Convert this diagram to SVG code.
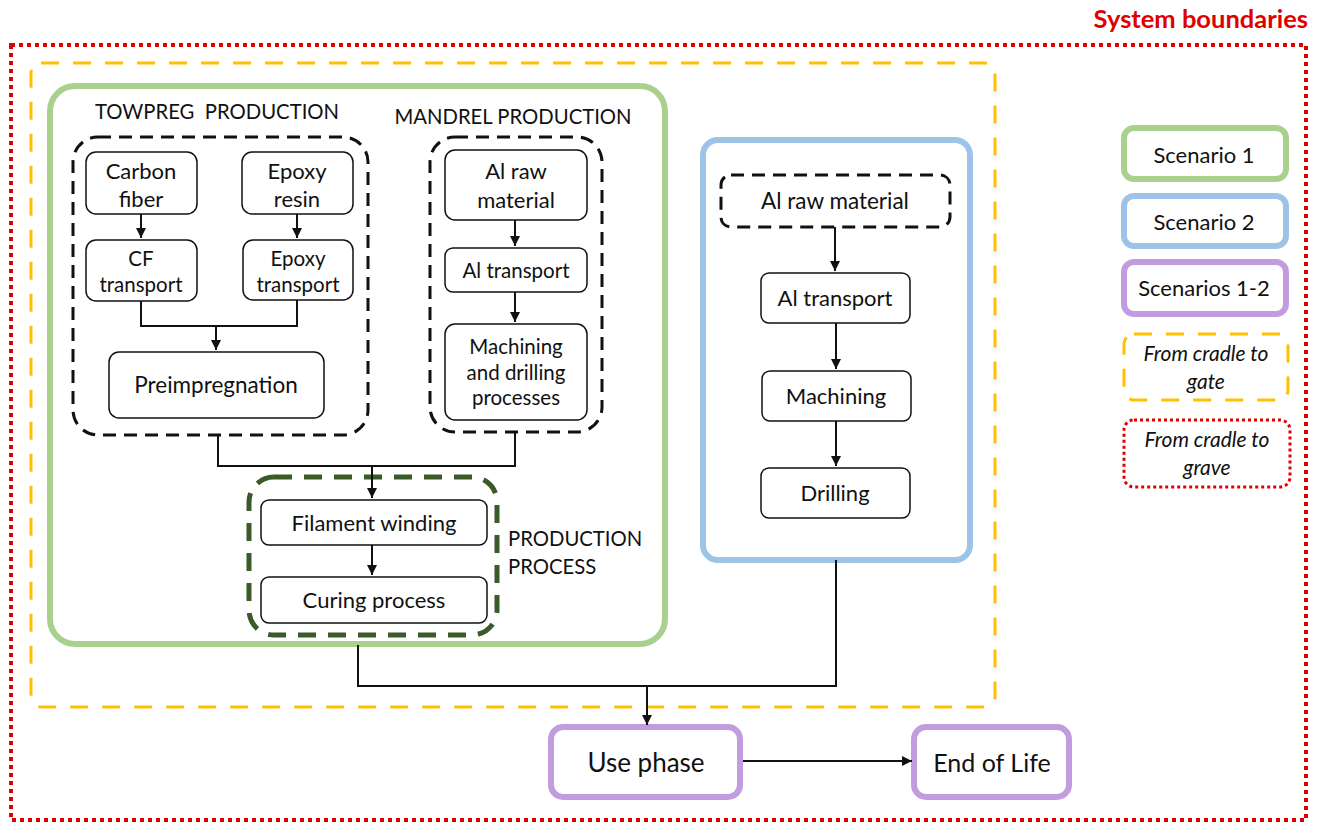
<svg xmlns="http://www.w3.org/2000/svg" width="1318" height="823" viewBox="0 0 1318 823">
<style>
text{font-family:Lato,"Open Sans","Liberation Sans",sans-serif;fill:#111;text-anchor:middle}
.box{fill:#fff;stroke:#111;stroke-width:1.5}
.dash{fill:none;stroke:#111;stroke-width:3;stroke-dasharray:13 8}
.c{fill:none;stroke:#111;stroke-width:2}
.s1{fill:#fff;stroke:#A9D18E;stroke-width:6}
.s2{fill:#fff;stroke:#9DC3E6;stroke-width:6}
.s12{fill:#fff;stroke:#C39BE0;stroke-width:6}
.gate{fill:none;stroke:#FFC000;stroke-width:3;stroke-dasharray:18 14}
.grave{fill:none;stroke:#E00000;stroke-width:4;stroke-dasharray:4 4}
.cap{font-size:20.3px}
.t22{font-size:22px}
.t20{font-size:20.5px}
.leg{font-size:22px}
.it{font-style:italic;font-size:21px}
</style>
<defs>
<marker id="ah" viewBox="0 0 10 10" refX="10" refY="5" markerWidth="5" markerHeight="5" orient="auto"><path d="M0,0 L10,5 L0,10 z" fill="#111"/></marker>
</defs>
<text x="1308" y="28" style="font-size:25.5px;font-weight:bold;fill:#E00000;text-anchor:end">System boundaries</text>
<rect id="system-boundary" x="11" y="45" width="1295" height="775" class="grave"/>
<rect id="cradle-gate" x="31" y="63" width="964" height="644" rx="10" class="gate"/>
<g id="scenario1"><rect x="50" y="86" width="615" height="558" rx="25" class="s1"/></g>
<g id="scenario2"><rect x="703" y="140" width="267" height="420" rx="15" class="s2"/></g>

<g id="towpreg">
<rect x="73" y="137" width="295" height="298" rx="25" class="dash"/>
<text x="217" y="119" class="cap" xml:space="preserve">TOWPREG  PRODUCTION</text>
</g>
<g id="mandrel">
<rect x="430" y="137" width="172" height="295" rx="25" class="dash"/>
<text x="513" y="124" class="cap">MANDREL PRODUCTION</text>
</g>
<g id="production-process">
<rect x="249" y="477" width="248" height="158" rx="25" fill="none" stroke="#3A5A28" stroke-width="5" stroke-dasharray="18 12"/>
<text x="508" y="546" class="cap" style="text-anchor:start">PRODUCTION</text>
<text x="508" y="574" class="cap" style="text-anchor:start">PROCESS</text>
</g>

<g id="carbon-fiber"><rect x="86" y="152" width="111" height="62" rx="10" class="box"/><text x="141" y="179" class="t22">Carbon</text><text x="141" y="207" class="t22">fiber</text></g>
<g id="epoxy-resin"><rect x="242" y="152" width="111" height="62" rx="10" class="box"/><text x="297" y="179" class="t22">Epoxy</text><text x="297" y="207" class="t22">resin</text></g>
<g id="cf-transport"><rect x="86" y="240" width="111" height="61" rx="10" class="box"/><text x="141" y="266" class="t20">CF</text><text x="141" y="292" class="t20">transport</text></g>
<g id="epoxy-transport"><rect x="243" y="240" width="110" height="60" rx="10" class="box"/><text x="298" y="266" class="t20">Epoxy</text><text x="298" y="292" class="t20">transport</text></g>
<g id="preimpregnation"><rect x="109" y="352" width="215" height="66" rx="10" class="box"/><text x="216" y="393" style="font-size:22.5px">Preimpregnation</text></g>

<g id="al-raw-1"><rect x="445" y="150" width="142" height="70" rx="10" class="box"/><text x="516" y="179" class="t22">Al raw</text><text x="516" y="208" class="t22">material</text></g>
<g id="al-transport-1"><rect x="445" y="248" width="142" height="44" rx="8" class="box"/><text x="516" y="278" class="t20">Al transport</text></g>
<g id="machining-drilling"><rect x="445" y="324" width="142" height="96" rx="10" class="box"/><text x="516" y="354" class="t20">Machining</text><text x="516" y="380" class="t20">and drilling</text><text x="516" y="405" class="t20">processes</text></g>

<g id="filament-winding"><rect x="261" y="500" width="226" height="45" rx="8" class="box"/><text x="374" y="531" class="t22">Filament winding</text></g>
<g id="curing"><rect x="261" y="577" width="226" height="46" rx="8" class="box"/><text x="374" y="608" class="t22">Curing process</text></g>

<g id="al-raw-2"><rect x="721" y="175" width="229" height="52" rx="10" class="dash"/><text x="835" y="209" style="font-size:22.5px">Al raw material</text></g>
<g id="al-transport-2"><rect x="761" y="273" width="149" height="50" rx="8" class="box"/><text x="835" y="306" class="t22">Al transport</text></g>
<g id="machining"><rect x="762" y="371" width="149" height="50" rx="8" class="box"/><text x="836" y="404" class="t22">Machining</text></g>
<g id="drilling"><rect x="761" y="468" width="149" height="50" rx="8" class="box"/><text x="835" y="501" class="t22">Drilling</text></g>

<g id="use-phase"><rect x="551" y="727" width="189" height="70" rx="12" class="s12"/><text x="646" y="772" style="font-size:26px">Use phase</text></g>
<g id="end-of-life"><rect x="914" y="727" width="155" height="70" rx="12" class="s12"/><text x="992" y="772" style="font-size:25px">End of Life</text></g>

<g id="legend-s1"><rect x="1124" y="128" width="162" height="51" rx="10" class="s1"/><text x="1204" y="163" class="leg">Scenario 1</text></g>
<g id="legend-s2"><rect x="1124" y="196" width="162" height="50" rx="10" class="s2"/><text x="1204" y="230" class="leg">Scenario 2</text></g>
<g id="legend-s12"><rect x="1124" y="262" width="162" height="52" rx="10" class="s12"/><text x="1204" y="296" class="leg">Scenarios 1-2</text></g>
<g id="legend-gate"><rect x="1124" y="334" width="164" height="66" rx="10" class="gate"/><text x="1206" y="361" class="it">From cradle to</text><text x="1206" y="389" class="it">gate</text></g>
<g id="legend-grave"><rect x="1124" y="420" width="166" height="67" rx="10" class="grave" style="stroke-width:3;stroke-dasharray:3 3"/><text x="1207" y="447" class="it">From cradle to</text><text x="1207" y="475" class="it">grave</text></g>

<g id="connectors">
<path d="M141,214 V238" class="c" marker-end="url(#ah)"/>
<path d="M297,214 V238" class="c" marker-end="url(#ah)"/>
<path d="M141,301 V326 H297 V300" class="c"/>
<path d="M216,326 V350" class="c" marker-end="url(#ah)"/>
<path d="M515,220 V246" class="c" marker-end="url(#ah)"/>
<path d="M515,292 V322" class="c" marker-end="url(#ah)"/>
<path d="M218,435 V466 H515 V432" class="c"/>
<path d="M372,466 V498" class="c" marker-end="url(#ah)"/>
<path d="M372,545 V575" class="c" marker-end="url(#ah)"/>
<path d="M835,227 V271" class="c" marker-end="url(#ah)"/>
<path d="M836,323 V369" class="c" marker-end="url(#ah)"/>
<path d="M836,421 V466" class="c" marker-end="url(#ah)"/>
<path d="M358,645 V686 H836 V560" class="c"/>
<path d="M647,686 V725" class="c" marker-end="url(#ah)"/>
<path d="M743,761 H912" class="c" marker-end="url(#ah)"/>
</g>
</svg>
